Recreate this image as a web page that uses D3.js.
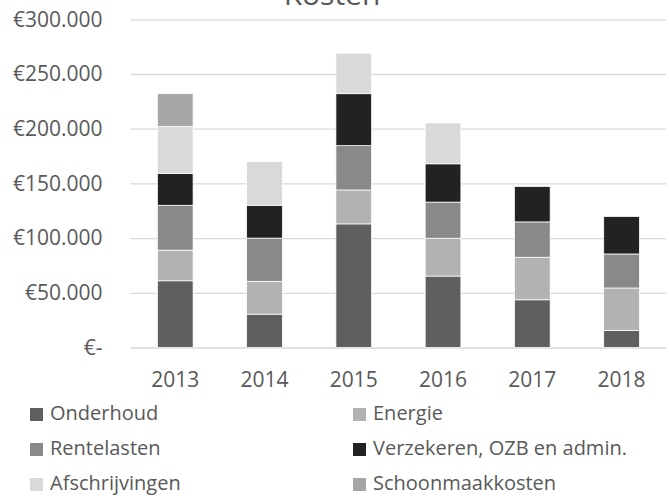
<!DOCTYPE html>
<html>
<head>
<meta charset="utf-8">
<script src="https://cdn.jsdelivr.net/npm/d3@7"></script>
<style>
    body { margin: 0; background: #fff; }
    svg text { font-family: "Open Sans", sans-serif; fill: #595959; }
    .axis .domain { display: none; }
    .axis line { stroke: #d9d9d9; stroke-width: 1.3px; }
</style>
</head>
<body>
<svg id="chart"></svg>
<script>
(function () {
    "use strict";

    // data (euro)
    var years = ["2013", "2014", "2015", "2016", "2017", "2018"];
    var onderhoud = [61000, 30500, 113000, 65300, 43600, 15600];
    var energie = [28000, 30000, 31000, 34600, 38900, 38800];
    var rentelasten = [41000, 39500, 40500, 33000, 32300, 31100];
    var verzekeren = [29000, 30000, 47500, 35000, 32400, 34200];
    var afschrijvingen = [43000, 40000, 37000, 37300, 0, 0];
    var schoonmaak = [30000, 0, 0, 0, 0, 0];
    var seriesNames = ["Onderhoud", "Energie", "Rentelasten", "Verzekeren, OZB en admin.", "Afschrijvingen", "Schoonmaakkosten"];
    var yTicks = [0, 50000, 100000, 150000, 200000, 250000, 300000];

    var colors = ["#5f5f5f", "#b2b2b2", "#898989", "#222222", "#d9d9d9", "#a6a6a6"];
    var dim = { width: 669, height: 496 };
    var plot = { left: 130.6, right: 666.2, top: 19.3, bottom: 347.5 };

    var svg = d3.select("#chart").attr("width", dim.width).attr("height", dim.height);

    var rows = years.map(function (yr, i) {
        return {
            year: yr,
            s0: onderhoud[i], s1: energie[i], s2: rentelasten[i],
            s3: verzekeren[i], s4: afschrijvingen[i], s5: schoonmaak[i]
        };
    });
    var keys = ["s0", "s1", "s2", "s3", "s4", "s5"];
    var stacked = d3.stack().keys(keys)(rows);

    var x = d3.scaleBand().domain(years).range([plot.left, plot.right])
        .paddingInner(0.6).paddingOuter(0.3);
    var y = d3.scaleLinear().domain([0, 300000]).range([plot.bottom, plot.top]);

    var nl = d3.formatLocale({ decimal: ",", thousands: ".", grouping: [3], currency: ["€", ""] });
    var fmt = nl.format("$,.0f");

    var yaxis = d3.axisLeft(y).tickValues(yTicks)
        .tickSize(-(plot.right - plot.left))
        .tickPadding(28)
        .tickFormat(function (d) { return d === 0 ? "€-" : fmt(d); });
    svg.append("g").attr("class", "y axis")
        .attr("transform", "translate(" + plot.left + ",0)")
        .call(yaxis)
        .selectAll("text").style("font-size", "21px");

    // bars
    var layer = svg.selectAll("g.layer").data(stacked).enter().append("g")
        .attr("class", "layer")
        .attr("fill", function (d, i) { return colors[i]; });
    layer.selectAll("rect").data(function (d) { return d.filter(function (p) { return p[1] > p[0]; }); })
        .enter().append("rect")
        .attr("x", function (d) { return x(d.data.year); })
        .attr("width", x.bandwidth())
        .attr("y", function (d) { return y(d[1]); })
        .attr("height", function (d) { return y(d[0]) - y(d[1]); })
        .attr("stroke", "#ffffff")
        .attr("stroke-width", 0.75);

    // x labels
    svg.append("g").attr("class", "x labels").selectAll("text").data(years).enter().append("text")
        .attr("x", function (d) { return x(d) + x.bandwidth() / 2; })
        .attr("y", 387)
        .attr("text-anchor", "middle")
        .style("font-size", "21px")
        .text(function (d) { return d; });

    // title (mostly cut off at the top)
    svg.append("text")
        .attr("x", 332)
        .attr("y", 5)
        .attr("text-anchor", "middle")
        .style("font-size", "30px")
        .text("Kosten");

    // legend
    var legend = svg.selectAll("g.legend").data(seriesNames).enter().append("g")
        .attr("class", "legend")
        .attr("transform", function (d, i) {
            var lx = (i % 2 === 0) ? 30 : 353;
            var ly = 420 + Math.floor(i / 2) * 35;
            return "translate(" + lx + "," + ly + ")";
        });
    legend.append("rect")
        .attr("x", 0).attr("y", -12)
        .attr("width", 13).attr("height", 13)
        .attr("fill", function (d, i) { return colors[i]; });
    legend.append("text")
        .attr("x", 20)
        .attr("y", 0)
        .style("font-size", "20px")
        .text(function (d) { return d; });
})();
</script>
</body>
</html>
